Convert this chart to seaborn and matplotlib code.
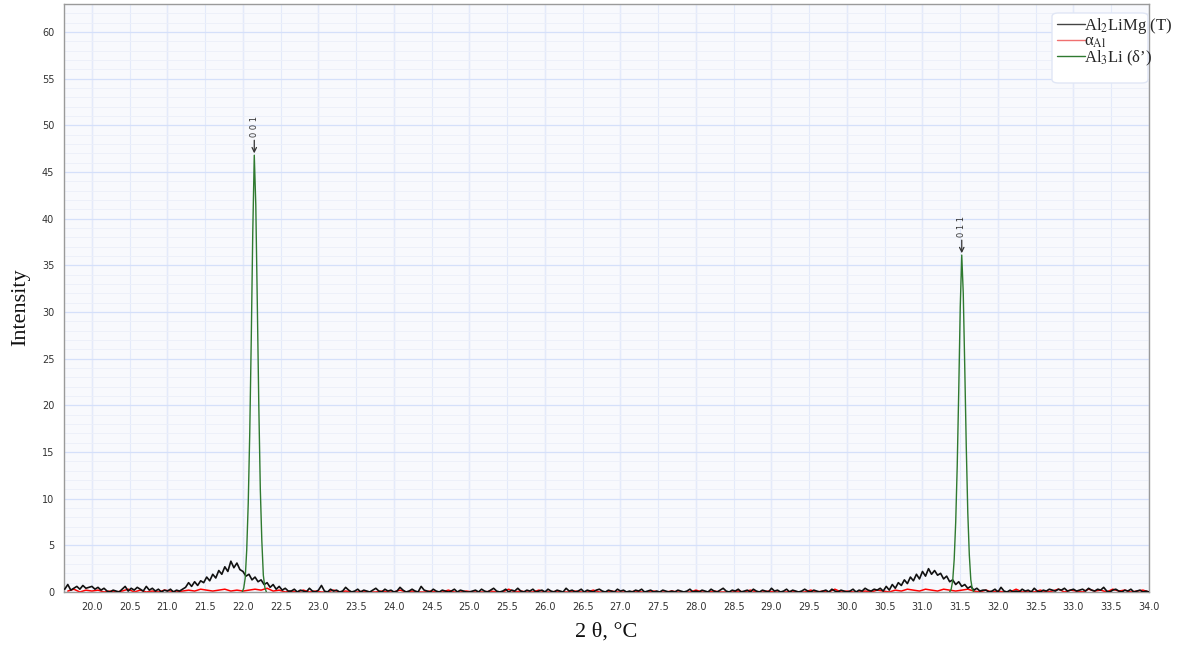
import numpy as np
import pandas as pd
import matplotlib
matplotlib.use('Agg')
import matplotlib.pyplot as plt
import matplotlib.ticker as mticker
import matplotlib.patches as mpatches
from matplotlib.lines import Line2D
import seaborn as sns

# --- data (intensity in tenths) ---
# Al2LiMg (T): sampled every 0.04 deg from 19.64 to 34.00
t_start, t_step = 19.64, 0.04
black_a = [3, 8, 2, 4, 6, 3, 7, 4, 5, 6, 3, 5, 2, 4, 1, 0, 2, 1, 0, 3,
           6, 1, 4, 2, 5, 3, 1, 6, 2, 4, 1, 3, 0, 2, 1, 3, 0, 2, 1, 3]
black_hump1 = [5, 10, 6, 11, 7, 12, 10, 16, 12, 19, 15, 23, 19, 27, 22, 33, 26, 31,
               24, 22, 17, 19, 13, 16, 11, 13, 8, 10, 5, 8, 3, 6, 2, 4, 1]
black_mid = [1, 3, 0, 2, 1, 0, 4, 1, 0, 2, 7, 1, 0, 3, 1, 2, 0, 1, 5, 2, 0, 1, 3, 0, 2,
             1, 0, 2, 4, 1, 0, 3, 1, 2, 0, 1, 5, 2, 0, 1, 3, 1, 0, 6, 2, 1, 0, 3, 1, 0,
             2, 1, 0, 1, 3, 0, 2, 1, 0, 0, 1, 2, 0, 3, 1, 0, 2, 4, 1, 0, 1, 3, 0, 2, 1,
             4, 1, 0, 2, 1, 3, 0, 1, 2, 0, 3, 1, 0, 2, 1, 0, 4, 1, 2, 0, 1, 3, 0, 2, 1,
             0, 2, 3, 1, 0, 2, 1, 0, 3, 1, 2, 0, 1, 0, 2, 1, 3, 0, 1, 2, 0, 1, 0, 2, 1,
             0, 1, 0, 2, 1, 0, 1, 3, 0, 1, 0, 2, 1, 0, 3, 1, 0, 2, 4, 1, 0, 2, 1, 3, 0,
             1, 2, 0, 3, 1, 0, 2, 1, 0, 4, 1, 2, 0, 1, 3, 0, 2, 1, 0, 1, 3, 1, 0, 2, 1,
             0, 1, 2, 0, 3, 1, 0, 2, 1, 0, 1, 3, 0, 2, 1, 4, 2, 1, 3, 2]
black_hump2 = [4, 1, 6, 2, 8, 4, 10, 7, 13, 9, 16, 12, 19, 14, 22, 17, 25, 19, 23, 18,
               20, 14, 17, 11, 13, 8, 11, 6, 8, 4, 6, 2, 4, 1, 2]
black_e = [2, 0, 1, 3, 0, 5, 1, 0, 2, 0, 1, 0, 3, 1, 2, 0, 4, 1, 0, 2,
           1, 3, 2, 1, 3, 2, 4, 1, 2, 3, 1, 2, 3, 1, 4, 2, 1, 3, 2, 5,
           1, 0, 2, 3, 1, 0, 2, 1, 3, 0, 1, 2, 0, 1, 0]

# alpha-Al: sampled every 0.08 deg from 19.68 to 34.00
r_start, r_step = 19.68, 0.08
red_vals = [1, 3, 0, 2, 1, 2, 0, 1, 0, 1, 3, 0, 2, 0, 1, 0, 2, 1, 0, 1,
            2, 1, 3, 2, 1, 2, 3, 1, 2, 1, 2, 3, 2, 4, 1, 2, 0, 1, 0, 2,
            0, 1, 0, 0, 2, 0, 1, 0, 0, 1, 0, 0, 1, 0, 0, 2, 0, 1, 0, 0,
            1, 0, 0, 2, 0, 0, 1, 0, 0, 0, 1, 0, 0, 3, 0, 1, 0, 0, 2, 0,
            0, 1, 0, 0, 1, 0, 0, 2, 0, 0, 1, 0, 0, 0, 1, 0, 0, 1, 0, 0,
            1, 0, 0, 0, 2, 0, 0, 1, 0, 0, 0, 1, 0, 2, 0, 0, 1, 0, 0, 0,
            1, 0, 0, 2, 0, 1, 0, 3, 0, 1, 0, 0, 1, 0, 2, 1, 0, 2, 1, 3,
            2, 1, 3, 2, 1, 3, 2, 1, 2, 3, 1, 0, 2, 0, 1, 0, 0, 3, 0, 1,
            0, 2, 0, 1, 3, 0, 2, 1, 0, 3, 1, 2, 0, 3, 1, 2, 0, 1, 2, 0]

# Al3Li (delta') peaks
peak1_x = [21.99, 22.01, 22.03, 22.05, 22.07, 22.09, 22.11, 22.13, 22.15,
           22.17, 22.19, 22.21, 22.23, 22.25, 22.27, 22.29, 22.31]
peak1_y = [0.0, 0.4, 1.5, 4.5, 9.5, 17.0, 27.0, 38.5, 46.8,
           41.5, 31.0, 20.0, 11.0, 5.5, 1.8, 0.5, 0.0]
peak2_x = [31.36, 31.38, 31.40, 31.42, 31.44, 31.46, 31.48, 31.50, 31.52,
           31.54, 31.56, 31.58, 31.60, 31.62, 31.64, 31.66, 31.68]
peak2_y = [0.0, 0.3, 1.2, 3.5, 7.5, 13.5, 21.5, 30.5, 36.1,
           32.0, 24.0, 15.5, 8.5, 4.0, 1.3, 0.3, 0.0]
peak_labels = ['0 0 1', '0 1 1']

black_y = np.array(black_a + black_hump1 + black_mid + black_hump2 + black_e) / 10
black_x = np.round(t_start + t_step * np.arange(len(black_y)), 2)
red_y = np.array(red_vals) / 10
red_x = np.round(r_start + r_step * np.arange(len(red_y)), 2)

df_t = pd.DataFrame({'x': black_x, 'y': black_y})
df_a = pd.DataFrame({'x': red_x, 'y': red_y})
df_p1 = pd.DataFrame({'x': peak1_x, 'y': peak1_y})
df_p2 = pd.DataFrame({'x': peak2_x, 'y': peak2_y})

sns.set_theme(style='white')
plt.rcParams['font.family'] = ['DejaVu Sans']
plt.rcParams['mathtext.fontset'] = 'stix'

c_t, c_a, c_d = '#111111', '#ff0000', '#2f7a30'

W, H = 1180, 648
fig = plt.figure(figsize=(W / 100, H / 100), dpi=100)
ax = fig.add_axes([64 / W, 56 / H, 1085 / W, 588 / H])
ax.set_facecolor('#f8f9fd')

sns.lineplot(data=df_t, x='x', y='y', ax=ax, color=c_t, lw=1.2, estimator=None, zorder=3)
sns.lineplot(data=df_a, x='x', y='y', ax=ax, color=c_a, lw=1.1, estimator=None, zorder=2)
sns.lineplot(data=df_p1, x='x', y='y', ax=ax, color=c_d, lw=1.0, estimator=None, zorder=4)
sns.lineplot(data=df_p2, x='x', y='y', ax=ax, color=c_d, lw=1.0, estimator=None, zorder=4)

ax.set_xlim(19.63, 34.0)
ax.set_ylim(0, 63)

# grid
ax.xaxis.set_major_locator(mticker.MultipleLocator(0.5))
ax.xaxis.set_major_formatter(mticker.FormatStrFormatter('%.1f'))
ax.yaxis.set_major_locator(mticker.MultipleLocator(5))
ax.yaxis.set_minor_locator(mticker.MultipleLocator(1))
ax.grid(which='major', axis='x', color='#e4eafa', lw=0.8, zorder=0)
ax.grid(which='major', axis='y', color='#d5e0fa', lw=0.9, zorder=0)
ax.grid(which='minor', axis='y', color='#eceff9', lw=0.6, zorder=0)
for gx in np.arange(20, 35, 1):
    ax.axvline(gx, color='#d5e0fa', lw=0.9, zorder=0.5)
ax.set_axisbelow(True)

ax.tick_params(axis='both', which='major', length=4, width=0.8, color='#888888',
               labelsize=7, labelcolor='#333333', direction='out', pad=3)
ax.tick_params(axis='both', which='minor', length=0)
for s in ax.spines.values():
    s.set_color('#9a9a9a')
    s.set_linewidth(1.0)

ax.set_xlabel('2 θ, °C', family='Liberation Serif', fontsize=16, color='#111111')
ax.set_ylabel('Intensity', family='Liberation Serif', fontsize=16, color='#111111')
ax.xaxis.set_label_coords(0.5, -40 / 588)
ax.yaxis.set_label_coords(-43 / 1085, 0.485)
ax.xaxis.label.set_va('center')
ax.yaxis.label.set_va('center')

# peak annotations
for px, py, lab in [(peak1_x[8], peak1_y[8], peak_labels[0]),
                    (peak2_x[8], peak2_y[8], peak_labels[1])]:
    ax.annotate('', xy=(px, py + 0.2), xytext=(px, py + 1.6),
                arrowprops=dict(arrowstyle='->', color='#333333', lw=0.9,
                                shrinkA=0, shrinkB=0, mutation_scale=8),
                zorder=5)
    ax.text(px, py + 1.9, lab, rotation=90, ha='center', va='bottom',
            fontsize=6, color='#333333')

# legend box (drawn separately: the labels spill past it in the reference)
box = mpatches.FancyBboxPatch(((1052 - 64) / 1085, (592 - 83) / 588),
                              96 / 1085, 70 / 588,
                              boxstyle='round,pad=0,rounding_size=0.006',
                              transform=ax.transAxes, facecolor='white',
                              edgecolor='#e0e6f5', lw=1.0, zorder=6, clip_on=False)
ax.add_patch(box)

handles = [Line2D([], [], color='#444444', lw=1.0),
           Line2D([], [], color='#f07070', lw=1.0),
           Line2D([], [], color=c_d, lw=1.0)]
labels = ['Al$_2$LiMg (T)', 'α$_{\\mathrm{Al}}$', 'Al$_3$Li (δ’)']
leg = ax.legend(handles, labels, loc='upper left',
                bbox_to_anchor=((1057 - 64) / 1085, (592 - 16) / 588),
                prop={'family': 'Liberation Serif', 'size': 12}, frameon=False,
                handlelength=1.65, handletextpad=0.0, labelspacing=-0.12,
                borderpad=0.0, borderaxespad=0.0)
leg.set_zorder(7)

fig.savefig('out.png', dpi=100)
